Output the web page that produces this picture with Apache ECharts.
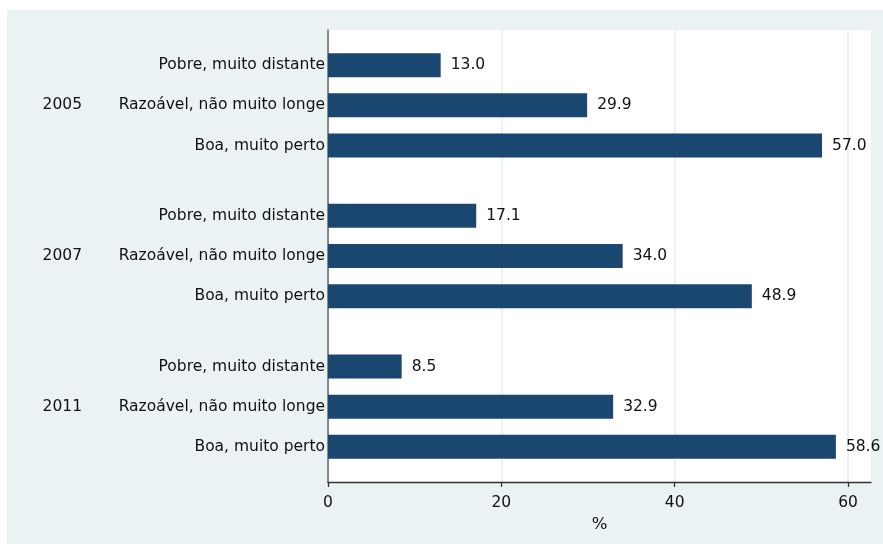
<!DOCTYPE html>
<html>
<head>
<meta charset="utf-8">
<script src="https://cdn.jsdelivr.net/npm/echarts@6/dist/echarts.min.js"></script>
<style>html,body{margin:0;padding:0;background:#fff}#c{width:883px;height:544px}</style>
</head>
<body>
<div id="c"></div>
<script>
const years = ['2005', '2007', '2011'];
const levels = ['Pobre, muito distante', 'Razoável, não muito longe', 'Boa, muito perto'];
const values2005 = [13.0, 29.9, 57.0];
const values2007 = [17.1, 34.0, 48.9];
const values2011 = [8.5, 32.9, 58.6];
const xTicks = [0, 20, 40, 60];

const groups = [values2005, values2007, values2011];
const SLOTS = 45, FIRST = 3, ROW = 4, GROUP = 15;
const cats = [], levelLabel = [], yearLabel = [], barData = [];
for (let s = 0; s < SLOTS; s++) { cats.push('s' + s); levelLabel.push(''); yearLabel.push(''); barData.push('-'); }
groups.forEach((vals, g) => {
  vals.forEach((v, i) => {
    const s = FIRST + g * GROUP + i * ROW;
    levelLabel[s] = levels[i];
    barData[s] = v;
    if (i === 1) yearLabel[s] = years[g];
  });
});

const FONT = 'DejaVu Sans';
const FS = 15.5;
const chart = echarts.init(document.getElementById('c'), null, {renderer: 'canvas'});
chart.setOption({
  animation: false,
  backgroundColor: '#ffffff',
  graphic: [{type: 'rect', z: -10, shape: {x: 7, y: 10, width: 876, height: 534}, style: {fill: '#EAF2F3'}}],
  grid: {left: 328, right: 12, top: 30, bottom: 62, show: true, backgroundColor: '#ffffff', borderWidth: 0},
  xAxis: {
    type: 'value', min: 0, max: 62.65, interval: 20,
    name: '%', nameLocation: 'middle', nameGap: 27,
    nameTextStyle: {fontFamily: FONT, fontSize: FS + 1, color: '#111'},
    axisLine: {show: true, lineStyle: {color: '#333', width: 1.3}},
    axisTick: {show: true, length: 5, lineStyle: {color: '#333', width: 1.3}, customValues: xTicks},
    axisLabel: {fontFamily: FONT, fontSize: FS, color: '#111', margin: 13, customValues: xTicks},
    splitLine: {show: true, lineStyle: {color: '#EAF2F3', width: 2}}
  },
  yAxis: [{
    type: 'category', data: cats, inverse: true,
    axisLine: {show: true, lineStyle: {color: '#666', width: 1.5}},
    axisTick: {show: false},
    splitLine: {show: false},
    axisLabel: {interval: 0, margin: 3, fontFamily: FONT, fontSize: FS, color: '#111',
      formatter: (v, idx) => levelLabel[idx]}
  }, {
    type: 'category', data: cats, inverse: true, position: 'left', offset: 246,
    axisLine: {show: false}, axisTick: {show: false}, splitLine: {show: false},
    axisLabel: {interval: 0, margin: 0, fontFamily: FONT, fontSize: FS, color: '#111',
      formatter: (v, idx) => yearLabel[idx]}
  }],
  series: [{
    type: 'bar', yAxisIndex: 0, data: barData, barWidth: 24,
    itemStyle: {color: '#1A476F'},
    label: {show: true, position: 'right', distance: 10, fontFamily: FONT, fontSize: FS, color: '#111',
      formatter: p => Number(p.value).toFixed(1)}
  }]
});
</script>
</body>
</html>
